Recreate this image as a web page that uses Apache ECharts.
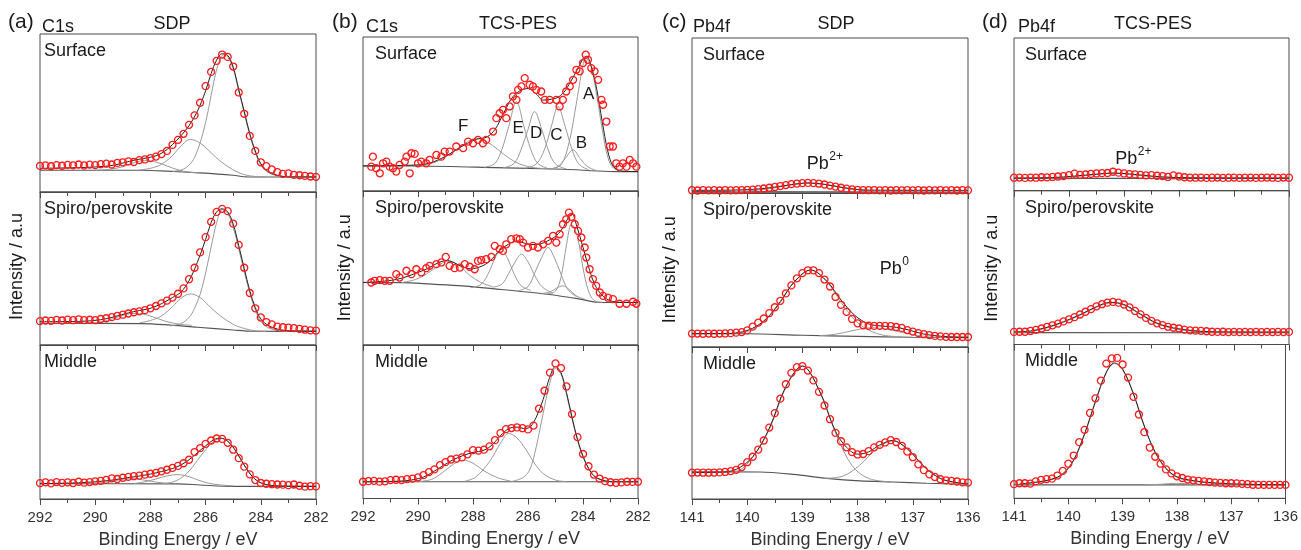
<!DOCTYPE html>
<html><head><meta charset="utf-8">
<script src="https://cdn.jsdelivr.net/npm/echarts@6/dist/echarts.min.js"></script>
<style>html,body{margin:0;padding:0;background:#fff}#c{width:1301px;height:550px}</style>
</head><body><div id="c"></div><script>
// ---------- energy grids (eV) ----------
const c1sEnergy = [292.0,291.8,291.6,291.4,291.2,291.0,290.8,290.6,290.4,290.2,290.0,289.8,289.6,289.4,289.2,289.0,288.8,288.6,288.4,288.2,288.0,287.8,287.6,287.4,287.2,287.0,286.8,286.6,286.4,286.2,286.0,285.8,285.6,285.4,285.2,285.0,284.8,284.6,284.4,284.2,284.0,283.8,283.6,283.4,283.2,283.0,282.8,282.6,282.4,282.2,282.0];
const pb4fEnergy = [141.0,140.9,140.8,140.7,140.6,140.5,140.4,140.3,140.2,140.1,140.0,139.9,139.8,139.7,139.6,139.5,139.4,139.3,139.2,139.1,139.0,138.9,138.8,138.7,138.6,138.5,138.4,138.3,138.2,138.1,138.0,137.9,137.8,137.7,137.6,137.5,137.4,137.3,137.2,137.1,137.0,136.9,136.8,136.7,136.6,136.5,136.4,136.3,136.2,136.1,136.0];
const c1sTicks = [292,290,288,286,284,282];
const pb4fTicks = [141,140,139,138,137,136];

// ---------- (a) C1s SDP ----------
const aSurfData = [16.5,16.8,16.3,17.0,16.6,17.2,16.9,17.4,16.8,17.3,17.0,17.6,17.9,17.4,18.4,18.8,19.4,19.0,20.2,20.6,21.4,22.4,24.0,26.0,29.8,33.0,36.8,42.5,48.5,56.5,67.0,76.0,83.0,87.0,85.5,79.4,63.0,49.5,35.5,26.0,18.8,16.4,14.3,12.6,11.5,11.8,10.8,10.6,10.2,9.8,9.6];
const aSurfFit = [[292,15],[290.5,15.5],[289.5,16.5],[289,18.3],[288.5,20.5],[288,22],[287.6,24.5],[287.2,30],[286.9,35.5],[286.6,42],[286.3,51],[286.0,64],[285.8,75],[285.6,83.5],[285.4,87.5],[285.2,86.5],[285.0,79],[284.8,65],[284.6,51],[284.4,37],[284.2,26],[284,18],[283.7,12.5],[283.3,10.2],[283,9.6],[282,9.5]];
const aSurfBg = [[292,13.8],[288.3,13.8],[287.4,13.2],[286.2,12.1],[285,10.6],[284.5,9.6],[282,9.5]];
const aSurfPeak1 = [[287.2,13.0],[286.8,14.5],[286.5,19],[286.3,26],[286.1,37],[285.9,52],[285.7,70],[285.5,83],[285.35,87],[285.2,85.5],[285.0,78],[284.8,64],[284.6,50],[284.4,36],[284.2,25],[284.0,17],[283.7,12],[283.3,10],[283,9.5]];
const aSurfPeak2 = [[288.4,14],[288,15],[287.6,17.5],[287.2,23],[286.9,29],[286.55,33.3],[286.2,31],[285.9,26.5],[285.5,20],[285.0,14],[284.6,11],[284.2,9.8],[283.8,9.5]];
const aSurfPeak3 = [[290,13.8],[289.5,14.3],[289,16],[288.6,18.5],[288.2,20],[287.8,19],[287.4,16.5],[287,14],[286.6,12.6],[286.2,12.1]];

const aSpiroData = [15.6,16.0,15.8,16.4,16.0,16.6,16.2,16.8,16.3,16.5,16.2,17.0,17.5,18.2,19.0,19.8,20.6,21.4,22.0,22.8,24.0,25.5,27.2,29.0,31.0,33.5,37.0,43.0,50.5,60.5,70.5,80.5,87.0,89.0,87.5,79.3,65.4,50.5,34.0,24.0,18.0,15.0,13.5,12.0,11.6,11.4,11.0,10.5,10.0,9.6,9.4];
const aSpiroFit = [[292,15.2],[290.5,15.5],[289.8,16.5],[289.3,18.5],[288.8,21],[288.4,22.5],[288,24],[287.6,27],[287.2,31],[286.9,34.5],[286.6,42],[286.3,54],[286.0,69],[285.8,80],[285.6,87],[285.4,89],[285.2,87],[285.0,79],[284.8,65],[284.6,50],[284.4,35.5],[284.2,24.5],[284,17],[283.7,12.5],[283.3,10],[283,9.4],[282,9]];
const aSpiroBg = [[292,14.2],[288.3,14.0],[287.5,13.3],[286.3,11.6],[285,9.8],[284.3,9.0],[282,8.9]];
const aSpiroPeak1 = [[287.3,12.5],[286.9,14],[286.6,18],[286.4,24],[286.2,33],[286.0,47],[285.8,64],[285.6,80],[285.4,88.4],[285.2,86],[285.0,77],[284.8,63],[284.6,48],[284.4,34],[284.2,23],[284.0,15.5],[283.7,11],[283.3,9.3],[283,9]];
const aSpiroPeak2 = [[288.4,14.5],[288.0,16],[287.6,19],[287.2,25],[286.9,30.5],[286.55,33.4],[286.2,31],[285.9,26],[285.5,19.5],[285.0,13.5],[284.6,10.8],[284.2,9.3],[283.8,9]];
const aSpiroPeak3 = [[290.3,14.2],[289.8,15],[289.3,17.5],[288.9,20],[288.5,20.7],[288.1,19.5],[287.7,17],[287.3,14.8],[286.9,13.5],[286.5,12.8]];

const aMidData = [10.3,10.8,10.2,11.0,10.5,10.8,10.4,11.2,10.6,11.0,11.5,11.8,12.4,13.4,13.0,13.8,14.4,14.8,15.2,15.8,16.4,17.0,18.0,19.0,20.2,21.5,23.2,25.5,30.5,33.0,35.8,38.0,39.3,39.0,36.5,32.0,26.5,21.0,16.0,12.3,10.4,9.9,9.6,9.4,9.3,9.0,9.4,8.6,8.0,8.3,8.2];
const aMidFit = [[292,10],[290.5,10.6],[289.5,12],[289,13.4],[288.5,14.6],[288,16.2],[287.6,17.8],[287.2,19.8],[286.9,22],[286.6,25.5],[286.3,30],[286.0,34.5],[285.7,38.5],[285.45,39.5],[285.2,37.5],[284.9,31],[284.6,22],[284.3,14.5],[284,10.5],[283.6,8.8],[283,8.3],[282,8.2]];
const aMidBg = [[292,9.9],[287,9.8],[286.2,9.1],[285,8.2],[282,8.2]];
const aMidPeak1 = [[287.6,9.9],[287.2,11],[286.9,13.5],[286.6,18],[286.3,25],[286.0,32],[285.7,37.5],[285.45,39.3],[285.2,37.5],[284.9,31],[284.6,22],[284.3,14.5],[284.0,10.5],[283.6,8.7],[283,8.2]];
const aMidPeak2 = [[288.6,10],[288.2,11.2],[287.8,13],[287.4,15],[287.0,15.8],[286.6,14.5],[286.3,12.5],[285.9,10.3],[285.5,9.2],[285,8.5]];
const aMidPeak3 = [[290.2,10],[289.6,11],[289.1,12.5],[288.7,13.2],[288.3,12.5],[287.8,11],[287.3,10.1]];

// ---------- (b) C1s TCS-PES ----------
const bSurfData = [[291.70,15.8],[291.64,22.3],[291.52,14.8],[291.39,11.5],[291.27,18.0],[291.15,19.1],[291.03,15.8],[290.91,14.8],[290.79,12.6],[290.67,16.9],[290.48,19.1],[290.42,22.3],[290.30,11.5],[290.24,24.5],[290.12,24.1],[290.00,18.0],[289.88,19.1],[289.70,18.0],[289.58,20.2],[289.33,23.4],[289.15,22.3],[289.03,25.6],[288.85,25.6],[288.61,28.9],[288.36,27.8],[288.18,32.1],[288.00,31.0],[287.82,33.2],[287.64,31.0],[287.52,33.2],[287.27,38.6],[287.15,47.3],[287.03,50.5],[286.91,52.7],[286.79,47.3],[286.67,54.9],[286.55,61.4],[286.42,59.2],[286.36,65.7],[286.24,67.9],[286.12,73.3],[285.94,69.0],[285.82,67.9],[285.70,65.7],[285.52,64.6],[285.39,59.2],[285.21,59.2],[284.97,59.2],[284.85,54.9],[284.73,59.2],[284.61,64.6],[284.48,67.9],[284.36,72.2],[284.24,78.7],[284.12,77.7],[284.00,83.1],[283.90,88.5],[283.82,85.2],[283.70,79.8],[283.58,77.7],[283.45,72.2],[283.33,59.2],[283.27,56.0],[283.15,45.1],[283.03,28.9],[282.91,28.9],[282.79,18.0],[282.67,15.8],[282.55,18.0],[282.42,15.8],[282.30,20.2],[282.18,18.0],[282.06,15.8]];
const bSurfFit = [[292,16.3],[290.2,16.8],[289.6,18],[289,22.5],[288.5,28],[287.9,33.5],[287.5,35],[287.2,40],[286.9,50],[286.6,60],[286.3,65],[286.0,66.5],[285.7,63],[285.45,59],[285.2,59.5],[284.95,60.5],[284.7,64],[284.45,71],[284.2,79],[284.0,86],[283.88,87.5],[283.7,81],[283.5,66],[283.3,45],[283.1,26],[282.9,16],[282.6,13],[282,12.6]];
const bSurfBg = [[292,16.3],[289.9,16.2],[287.2,15.2],[284.7,14.1],[283.5,13.0],[282.8,12.6],[282,12.6]];
const bSurfPeakF = [[290.2,16.2],[289.6,17.5],[289.1,21],[288.6,27],[288.2,32],[287.88,34.3],[287.5,32],[287.1,27],[286.7,21.5],[286.3,17.5],[285.8,15.2],[285.3,14.5]];
const bSurfPeakE = [[287.6,15.3],[287.2,18],[286.95,27],[286.7,42],[286.42,58.1],[286.15,42],[285.9,27],[285.65,18],[285.3,14.8]];
const bSurfPeakD = [[286.9,15],[286.5,18],[286.25,27],[286.0,40],[285.76,51.6],[285.5,40],[285.25,26],[285.0,17.5],[284.6,14.3]];
const bSurfPeakC = [[286.1,14.8],[285.7,17.5],[285.4,27],[285.15,42],[284.91,54.9],[284.65,42],[284.4,27],[284.15,17.5],[283.8,13.8]];
const bSurfPeakB = [[285.2,14.3],[284.9,16],[284.65,21],[284.36,26.7],[284.1,21],[283.85,16],[283.5,13.2]];
const bSurfPeakA = [[285.2,14.3],[284.8,17],[284.5,32],[284.25,56],[284.05,77],[283.9,86.3],[283.7,80],[283.5,62],[283.3,40],[283.1,22],[282.9,15],[282.6,12.8]];
const bSurfLabels = [[288.36,41.9,'F'],[286.36,40.8,'E'],[285.70,37.5,'D'],[284.97,36.4,'C'],[284.06,31.0,'B'],[283.79,62.5,'A']];

const bSpiroData = [[291.70,40.6],[291.58,41.7],[291.39,42.1],[291.21,41.7],[291.03,41.7],[290.79,46.0],[290.67,43.8],[290.42,48.2],[290.24,46.0],[290.06,49.2],[289.88,47.1],[289.70,49.9],[289.58,51.4],[289.33,52.5],[289.15,53.6],[288.99,57.2],[288.85,51.4],[288.67,49.9],[288.48,50.3],[288.30,52.5],[288.12,50.8],[287.94,49.2],[287.82,54.6],[287.70,55.1],[287.52,55.7],[287.33,57.2],[287.21,64.4],[287.03,62.2],[286.91,61.1],[286.79,65.4],[286.61,68.7],[286.42,69.3],[286.30,68.7],[286.18,66.5],[286.00,63.3],[285.82,64.4],[285.64,63.3],[285.45,65.4],[285.27,67.6],[285.09,70.8],[284.97,66.5],[284.85,71.9],[284.73,78.4],[284.61,81.6],[284.51,86.0],[284.42,83.2],[284.30,78.4],[284.18,74.1],[284.06,69.8],[283.94,63.3],[283.88,56.8],[283.76,49.2],[283.64,42.8],[283.52,38.4],[283.39,34.1],[283.27,31.9],[283.09,30.7],[282.91,29.8],[282.67,26.8],[282.42,26.8],[282.18,28.1],[282.06,26.8]];
const bSpiroFit = [[292,40.6],[290.8,42.5],[289.8,48.5],[288.95,54.8],[288.4,51],[288.1,49.5],[287.64,51.5],[287.3,56],[287.03,61.5],[286.7,65.5],[286.42,67.5],[286.1,66],[285.9,65.2],[285.6,65.5],[285.3,67.5],[284.97,71],[284.7,77],[284.5,84],[284.4,85],[284.24,78],[284.0,63.5],[283.76,48.5],[283.52,37.5],[283.15,30],[282.67,27.7],[282,27.6]];
const bSpiroBg = [[292,40.6],[290.6,40.5],[289.5,39.5],[288.4,38.4],[286.5,35.2],[285.3,33],[284.1,29.8],[283.5,27.8],[282,27.6]];
const bSpiroPeakF = [[290.6,40.5],[290.1,42.5],[289.7,46],[289.3,51],[288.91,54.6],[288.5,51.5],[288.1,45],[287.7,40.5],[287.3,38]];
const bSpiroPeakE = [[288.1,37.2],[287.7,39.5],[287.4,48],[287.2,56.5],[286.97,62.2],[286.75,56.5],[286.5,46],[286.25,38.5],[285.9,35.5]];
const bSpiroPeakD = [[287.3,37.5],[286.95,39.5],[286.7,46.5],[286.45,54.5],[286.24,59],[286.0,54],[285.75,45],[285.5,38],[285.1,33.5]];
const bSpiroPeakC = [[286.4,35],[286.0,38],[285.75,47],[285.5,57],[285.27,63.3],[285.05,57],[284.8,46],[284.55,36],[284.2,31]];
const bSpiroPeakB = [[285.5,33.5],[285.2,34.5],[284.95,37],[284.73,38.4],[284.5,36],[284.25,32],[283.9,29.5]];
const bSpiroPeakA = [[285.3,33.3],[285.0,35],[284.8,44],[284.6,65],[284.42,78.4],[284.2,70],[284.0,50],[283.8,35],[283.6,29],[283.3,27.7]];

const bMidData = [10.9,11.3,11.5,11.0,11.2,12.0,12.2,12.0,12.6,13.0,13.8,15.2,17.2,19.0,21.7,23.7,25.4,26.0,26.8,28.8,31.5,31.2,31.8,34.0,38.0,42.6,45.2,45.9,46.3,45.8,45.0,47.5,58.5,70.2,82.0,88.0,85.0,73.0,55.0,40.0,29.0,21.0,15.5,13.0,11.3,10.6,10.2,10.5,10.9,10.8,10.9];
const bMidFit = [[292,10.9],[290.5,11.5],[289.8,14],[289.3,19],[288.8,24.5],[288.36,28],[288,30],[287.6,31.5],[287.3,35],[287.0,41],[286.7,45.5],[286.4,46.5],[286.1,45.5],[285.9,47],[285.7,53],[285.45,64.5],[285.21,79],[285.0,86],[284.8,82],[284.6,69],[284.4,53],[284.2,38.5],[284.0,27.5],[283.8,19.8],[283.6,14.8],[283.3,12],[283,11],[282,10.9]];
const bMidBg = [[292,10.9],[282,10.9]];
const bMidPeak1 = [[286.6,11],[286.2,13.5],[285.94,18.5],[285.7,33.7],[285.45,55.4],[285.21,75],[285.0,84.8],[284.8,81],[284.6,68],[284.4,52],[284.2,38],[284.0,27],[283.8,19.5],[283.6,14.5],[283.3,11.8],[283,11]];
const bMidPeak2 = [[288.3,11.2],[287.9,14],[287.4,24],[287.0,36],[286.7,42.4],[286.4,39.5],[286.06,31.5],[285.75,22.5],[285.45,16.3],[285.0,12],[284.6,11]];
const bMidPeak3 = [[290,11],[289.5,12.5],[289.1,17],[288.7,22.5],[288.36,25],[288.0,23],[287.6,18],[287.1,13.5],[286.6,11.2]];

// ---------- (c) Pb4f SDP ----------
const cSurfData = [1.8,1.6,1.9,1.7,1.8,1.6,1.9,1.7,1.8,1.9,2.0,2.2,2.5,2.9,3.4,3.9,4.5,5.1,5.7,6.1,6.4,6.5,6.4,6.0,5.5,4.8,4.1,3.4,2.8,2.3,2.0,1.9,1.8,1.9,1.7,1.8,1.6,1.8,1.7,1.9,1.7,1.8,1.6,1.8,1.7,1.9,1.7,1.8,1.6,1.8,1.7];
const cSurfFit = [[141,1.7],[140.2,1.9],[139.8,2.6],[139.5,3.8],[139.2,5.4],[138.9,6.5],[138.6,5.6],[138.3,3.7],[138.0,2.2],[137.7,1.8],[136,1.7]];
const cSurfBg = [[141,0.9],[136,0.6]];
const cSurfPeak1 = [[140.3,0.8],[139.9,1.5],[139.6,2.8],[139.3,4.6],[139.1,5.8],[138.88,6.3],[138.65,5.8],[138.4,4.4],[138.1,2.6],[137.8,1.3],[137.4,0.7]];

const cSpiroData = [8.7,8.7,8.6,8.7,8.6,8.7,8.8,9.0,9.3,9.7,10.8,13.2,15.8,18.5,22.0,25.8,30.0,34.8,40.0,44.6,48.0,49.8,49.8,48.0,43.8,39.3,32.5,27.4,22.8,18.2,15.4,14.1,13.8,13.7,13.7,13.7,13.6,13.0,12.4,11.0,10.0,9.0,8.3,7.7,7.2,6.9,6.6,6.5,6.5,6.5,6.5];
const cSpiroFit = [[141,8.7],[140.4,8.8],[140.15,9.4],[139.9,12.2],[139.65,18.5],[139.4,29.5],[139.15,42.2],[138.85,50],[138.55,42.5],[138.3,30.5],[138.05,20.5],[137.8,15],[137.55,13.6],[137.3,12.8],[137.05,10.8],[136.8,8.4],[136.5,7],[136.2,6.5],[136,6.4]];
const cSpiroBg = [[141,8.7],[140,8.6],[139,7.6],[138,6.9],[137,6.3],[136,6.1]];
const cSpiroPeak1 = [[140.4,8.6],[140.15,9.0],[139.9,11.5],[139.65,17.8],[139.4,29],[139.15,42],[138.85,49.9],[138.55,42],[138.3,29],[138.05,17.5],[137.8,11],[137.55,7.8],[137.2,6.5]];
const cSpiroPeak2 = [[138.7,7.3],[138.4,8.3],[138.1,10.5],[137.9,12.0],[137.75,12.5],[137.55,12.0],[137.3,10.3],[137.0,8.0],[136.7,6.6],[136.4,6.2]];

const cMidData = [17.3,17.4,17.3,17.3,17.4,17.5,17.8,18.3,19.2,21.0,24.2,27.8,32.5,38.5,47.0,56.5,66.0,75.5,83.0,86.8,87.4,84.5,78.0,70.5,61.5,52.5,43.5,38.0,34.0,30.8,29.3,29.6,31.5,34.0,35.6,37.2,38.7,37.5,35.0,31.2,27.5,22.8,19.0,16.2,14.5,13.0,12.3,11.9,11.5,11.0,10.8];
const cMidFit = [[141,17.4],[140.5,17.6],[140.2,19.5],[139.9,27.8],[139.6,46.5],[139.3,74],[139.0,87.5],[138.7,72],[138.4,44.5],[138.2,34],[138.0,29.5],[137.8,31],[137.6,35.5],[137.37,38.5],[137.1,33],[136.8,21.5],[136.5,13.5],[136.2,10.8],[136,10]];
const cMidBg = [[141,17.9],[139.77,17.8],[139.16,16.2],[138.56,13.6],[137.96,11.9],[137.36,11.2],[136.75,10.4],[136,9.7]];
const cMidPeak1 = [[140.5,17.9],[140.2,18.3],[139.9,27.5],[139.6,45.8],[139.3,73.3],[139.0,87.4],[138.7,71.5],[138.4,43.5],[138.1,22],[137.8,13.5],[137.4,11.3]];
const cMidPeak2 = [[138.6,13.6],[138.27,15],[137.97,22],[137.67,32.4],[137.37,38.2],[137.07,32],[136.77,20.5],[136.47,13],[136.17,10.3],[136,9.8]];

// ---------- (d) Pb4f TCS-PES ----------
const dSurfData = [8.5,8.6,8.4,8.6,8.5,8.8,8.7,9.0,9.3,9.6,10.2,11.2,10.4,10.6,11.0,11.3,11.5,11.6,12.4,11.8,11.3,10.9,10.7,10.3,10.0,10.2,9.8,9.6,9.0,10.0,9.3,8.8,8.6,8.5,8.6,8.4,8.5,8.6,8.4,8.5,8.6,8.4,8.5,8.6,8.4,8.5,8.6,8.5,8.4,8.6,8.5];
const dSurfFit = [[141,8.3],[140.3,8.6],[139.9,9.6],[139.5,10.8],[139.2,11.5],[138.9,11],[138.5,9.6],[138.1,8.7],[137.6,8.4],[136,8.3]];
const dSurfBg = [[141,8.1],[136,8.1]];
const dSurfPeak1 = [[140.4,8.1],[140.0,8.8],[139.6,10.3],[139.2,11.5],[138.8,10.3],[138.4,8.8],[138.0,8.2]];

const dSpiroData = [8.2,8.3,8.3,8.8,9.5,10.4,11.4,12.5,13.6,15.0,16.3,17.8,19.5,21.3,23.0,24.8,26.2,27.2,27.7,27.2,26.0,24.2,21.8,19.6,17.3,15.4,13.8,12.6,11.5,10.9,10.4,9.7,9.2,9.0,8.9,8.6,8.3,8.2,8.3,8.1,8.2,8.1,8.2,8.1,8.2,8.1,8.2,8.1,8.2,8.1,8.2];
const dSpiroFit = [[141,8.2],[140.7,8.8],[140.4,11.2],[140.1,14.8],[139.8,19.4],[139.5,24.6],[139.25,27.4],[139.0,26],[138.7,19.8],[138.4,13.9],[138.1,10.8],[137.8,9.2],[137.4,8.3],[136,8.1]];
const dSpiroBg = [[141,7.7],[136,7.6]];
const dSpiroPeak1 = [[141,7.8],[140.7,8.4],[140.4,10.8],[140.1,14.4],[139.8,19.0],[139.5,24.2],[139.25,27.0],[139.0,25.6],[138.7,19.4],[138.4,13.5],[138.1,10.4],[137.8,8.8],[137.4,7.9],[136.8,7.6]];

const dMidData = [9.2,9.8,9.8,9.5,11.0,12.0,12.5,12.8,14.8,17.8,22.5,27.8,36.5,44.5,55.5,65.0,76.5,87.6,91.0,91.3,87.0,78.5,66.0,54.5,43.0,33.0,27.0,22.5,18.8,16.2,14.3,13.2,12.2,11.7,11.3,11.0,10.6,10.2,10.0,9.8,9.8,9.7,9.4,9.2,8.8,8.7,8.7,8.7,8.7,8.7,8.7];
const dMidFit = [[140.9,9.3],[140.6,10.5],[140.3,12.5],[140.1,16],[139.9,25],[139.7,42],[139.5,63],[139.3,82],[139.15,88],[139.0,84],[138.8,68],[138.6,47],[138.4,30],[138.2,19.5],[138.0,14],[137.7,11.5],[137.3,10],[136.8,9.2],[136,8.8]];
const dMidBg = [[141,8.7],[136,8.7]];
const dMidPeak1 = [[140.9,9.1],[140.6,10.2],[140.3,12.2],[140.1,15.6],[139.9,24.6],[139.7,41.6],[139.5,62.6],[139.3,81.6],[139.15,87.6],[139.0,83.6],[138.8,67.6],[138.6,46.6],[138.4,29.6],[138.2,19.1],[138.0,13.6],[137.7,11.1],[137.3,9.6],[136.8,8.9],[136,8.7]];
const dMidPeak2 = [[138.6,8.7],[138.3,9.1],[138.0,9.8],[137.7,9.1],[137.4,8.7]];

// ---------- text ----------
const panelTags = ['(a)','(b)','(c)','(d)'];
const panelCore = ['C1s','C1s','Pb4f','Pb4f'];
const panelMethod = ['SDP','TCS-PES','SDP','TCS-PES'];
const rowNames = ['Surface','Spiro/perovskite','Middle'];
// grid index = column*3 + row
const peakTags = [{g:6,e:138.92,v:19,base:'Pb',sup:'2+'},{g:7,e:137.6,v:50.6,base:'Pb',sup:'0'},{g:9,e:139.16,v:21,base:'Pb',sup:'2+'}];

// ---------- layout ----------
const FONT = '"Liberation Sans", Arial, sans-serif';
const cols = [
  {left:40, width:276, tops:[34,192,345], bottoms:[192,345,499], c1s:true, lblDx:4, tagX:8, coreX:42, methodX:172, yLblX:17},
  {left:363, width:275, tops:[37,191,345], bottoms:[191,345,498.5], c1s:true, lblDx:12, tagX:332, coreX:366, methodX:518, yLblX:345},
  {left:692, width:276, tops:[38,193,347], bottoms:[193,347,501.5], c1s:false, lblDx:11, tagX:662, coreX:693, methodX:836, yLblX:670},
  {left:1014, width:275, tops:[38,190.7,344.5], bottoms:[190.7,344.5,498.3], c1s:false, lblDx:11, tagX:982, coreX:1018, methodX:1153, yLblX:992}
];

function pairs(xs, ys){ return xs.map((x,i)=>[x, ys[i]]); }

const sub = [
  {data:pairs(c1sEnergy,aSurfData), fit:aSurfFit, bg:aSurfBg, comps:[aSurfPeak1,aSurfPeak2,aSurfPeak3]},
  {data:pairs(c1sEnergy,aSpiroData), fit:aSpiroFit, bg:aSpiroBg, comps:[aSpiroPeak1,aSpiroPeak2,aSpiroPeak3]},
  {data:pairs(c1sEnergy,aMidData), fit:aMidFit, bg:aMidBg, comps:[aMidPeak1,aMidPeak2,aMidPeak3]},
  {data:bSurfData, fit:bSurfFit, bg:bSurfBg, comps:[bSurfPeakF,bSurfPeakE,bSurfPeakD,bSurfPeakC,bSurfPeakB,bSurfPeakA]},
  {data:bSpiroData, fit:bSpiroFit, bg:bSpiroBg, comps:[bSpiroPeakF,bSpiroPeakE,bSpiroPeakD,bSpiroPeakC,bSpiroPeakB,bSpiroPeakA]},
  {data:pairs(c1sEnergy,bMidData), fit:bMidFit, bg:bMidBg, comps:[bMidPeak1,bMidPeak2,bMidPeak3]},
  {data:pairs(pb4fEnergy,cSurfData), fit:cSurfFit, bg:cSurfBg, comps:[cSurfPeak1]},
  {data:pairs(pb4fEnergy,cSpiroData), fit:cSpiroFit, bg:cSpiroBg, comps:[cSpiroPeak1,cSpiroPeak2]},
  {data:pairs(pb4fEnergy,cMidData), fit:cMidFit, bg:cMidBg, comps:[cMidPeak1,cMidPeak2]},
  {data:pairs(pb4fEnergy,dSurfData), fit:dSurfFit, bg:dSurfBg, comps:[dSurfPeak1]},
  {data:pairs(pb4fEnergy,dSpiroData), fit:dSpiroFit, bg:dSpiroBg, comps:[dSpiroPeak1]},
  {data:pairs(pb4fEnergy,dMidData), fit:dMidFit, bg:dMidBg, comps:[dMidPeak1,dMidPeak2]}
];

const grids=[], xAxes=[], yAxes=[], series=[];
cols.forEach((col,ci)=>{
  for(let r=0;r<3;r++){
    const g = ci*3+r;
    grids.push({left:col.left, width:col.width, top:col.tops[r], height:col.bottoms[r]-col.tops[r], show:true, borderColor:'#4a4a4a', borderWidth:1, backgroundColor:'rgba(0,0,0,0)'});
    const ticks = col.c1s ? c1sTicks : pb4fTicks;
    xAxes.push({gridIndex:g, type:'value', inverse:true,
      min: ticks[ticks.length-1], max: ticks[0], interval: ticks[0]-ticks[1],
      axisLine:{show:true, lineStyle:{color:'#4a4a4a', width:1}},
      axisTick:{show:true, inside:false, length:6, lineStyle:{color:'#4a4a4a', width:1}},
      minorTick:{show:true, splitNumber:2, length:4, lineStyle:{color:'#4a4a4a', width:1}},
      splitLine:{show:false},
      axisLabel:{show:r===2, fontSize:15, color:'#333', margin:11, fontFamily:FONT},
      name: r===2 ? 'Binding Energy / eV' : '', nameLocation:'middle', nameGap:32,
      nameTextStyle:{fontSize:18, color:'#333', fontFamily:FONT}
    });
    yAxes.push({gridIndex:g, type:'value', min:0, max:100, show:false});
    const s = sub[g];
    series.push({type:'line', xAxisIndex:g, yAxisIndex:g, data:s.bg, symbol:'none', smooth:0.3, lineStyle:{color:'#555', width:1.1}, z:2, silent:true});
    s.comps.forEach(cp=>{
      series.push({type:'line', xAxisIndex:g, yAxisIndex:g, data:cp, symbol:'none', smooth:0.35, lineStyle:{color:'#9a9a9a', width:1}, z:2, silent:true});
    });
    series.push({type:'line', xAxisIndex:g, yAxisIndex:g, data:s.fit, symbol:'none', smooth:0.35, lineStyle:{color:'#222', width:1}, z:3, silent:true});
    series.push({type:'scatter', xAxisIndex:g, yAxisIndex:g, data:s.data, symbol:'circle', symbolSize:7,
      itemStyle:{color:'rgba(255,255,255,0)', borderColor:'#ff1a1a', borderWidth:1.3, opacity:1}, z:4, silent:true});
  }
});

const chart = echarts.init(document.getElementById('c'), null, {renderer:'canvas'});
chart.setOption({animation:false, backgroundColor:'#fff', grid:grids, xAxis:xAxes, yAxis:yAxes, series:series});

// ---------- text graphics ----------
const gfx = [];
function txt(x,y,text,size,align,extra){
  const el = {type:'text', x:x, y:y, silent:true, z:100,
    style:{text:text, fontSize:size, fontFamily:FONT, fill:'#1a1a1a', textAlign:align||'left', align:align||'left', textVerticalAlign:'middle', verticalAlign:'middle'}};
  return Object.assign(el, extra||{});
}
cols.forEach((col,ci)=>{
  gfx.push(txt(col.tagX, 22, panelTags[ci], 21, 'left'));
  gfx.push(txt(col.coreX, 27.5, panelCore[ci], 18, 'left'));
  gfx.push(txt(col.methodX, 24.5, panelMethod[ci], 18, 'center'));
  for(let r=0;r<3;r++){
    gfx.push(txt(col.left+col.lblDx, col.tops[r]+17, rowNames[r], 18, 'left'));
  }
  gfx.push(txt(col.yLblX, (col.tops[0]+col.bottoms[2])/2, 'Intensity / a.u', 18, 'center', {rotation:Math.PI/2}));
});
// letter labels of C1s components (b, surface)
bSurfLabels.forEach(l=>{
  const p = chart.convertToPixel({gridIndex:3}, [l[0], l[1]]);
  gfx.push(txt(p[0], p[1], l[2], 17, 'center'));
});
// Pb labels
const mctx = document.createElement('canvas').getContext('2d');
mctx.font = '18px ' + FONT;
peakTags.forEach(t=>{
  const p = chart.convertToPixel({gridIndex:t.g}, [t.e, t.v]);
  gfx.push(txt(p[0], p[1], t.base, 18, 'left'));
  const w = mctx.measureText(t.base).width;
  gfx.push(txt(p[0]+w+0.5, p[1]-7, t.sup, 12, 'left'));
});
chart.setOption({graphic:gfx});
</script></body></html>
